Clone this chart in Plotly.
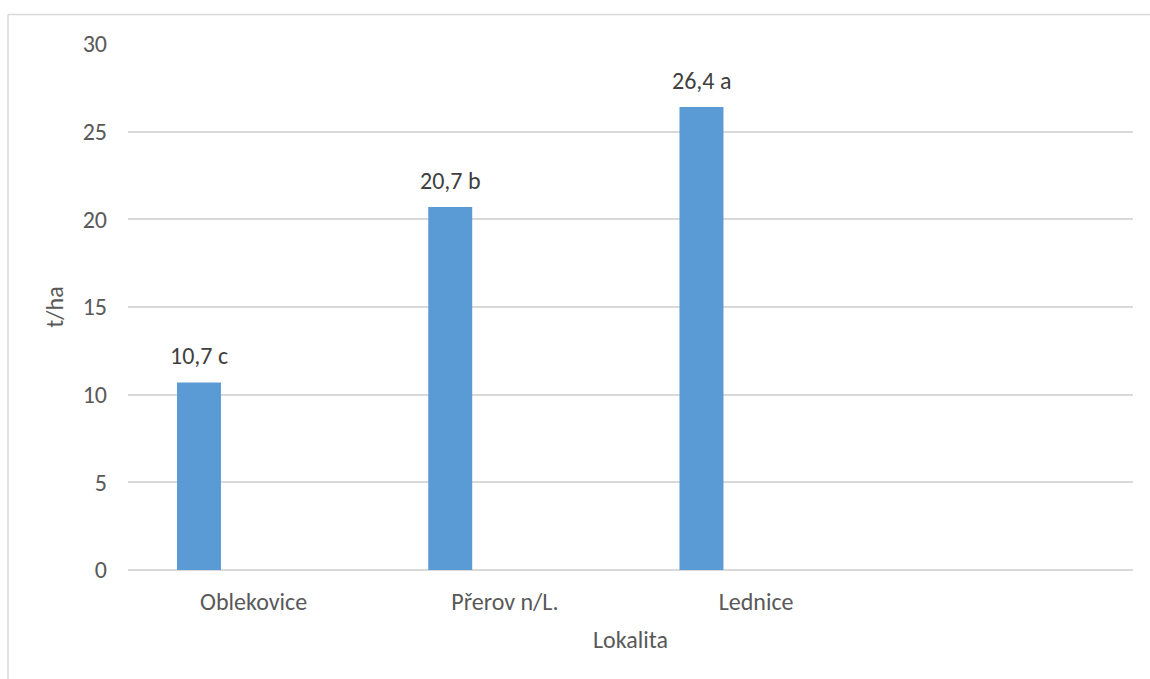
import plotly.graph_objects as go

categories = ["Oblekovice", "Přerov n/L.", "Lednice"]
values = [10.7, 20.7, 26.4]
letters = ["c", "b", "a"]
n_slots = 4  # Excel axis reserves one empty category slot

FONT = "Carlito, Lato, sans-serif"
FS = 24
BAR_OFFSET = -0.305
BAR_WIDTH = 0.175

xs = list(range(len(categories)))
labels = [f"{str(v).replace('.', ',')} {l}" for v, l in zip(values, letters)]

fig = go.Figure()
fig.add_trace(go.Bar(
    x=xs, y=values,
    offset=BAR_OFFSET, width=BAR_WIDTH,
    marker=dict(color="#5B9BD5", line=dict(width=0)),
    hoverinfo="skip",
))

for x, v, t in zip(xs, values, labels):
    fig.add_annotation(
        x=x + BAR_OFFSET + BAR_WIDTH / 2, y=v, text=t,
        showarrow=False, yanchor="bottom", yshift=10,
        font=dict(family=FONT, size=FS, color="#404040"),
    )

# chart area border (top and left edges visible)
fig.add_shape(type="line", xref="paper", yref="paper",
              x0=(8 - 128) / 1005, x1=1.1, y0=(570 - 14.5) / 526, y1=(570 - 14.5) / 526,
              line=dict(color="#d9d9d9", width=1.5))
fig.add_shape(type="line", xref="paper", yref="paper",
              x0=(8 - 128) / 1005, x1=(8 - 128) / 1005, y0=-0.3, y1=(570 - 14.5) / 526,
              line=dict(color="#d9d9d9", width=1.5))

fig.update_layout(
    width=1150, height=679,
    margin=dict(l=128, r=17, t=44, b=109),
    paper_bgcolor="white", plot_bgcolor="white",
    showlegend=False,
    font=dict(family=FONT, size=FS, color="#595959"),
    xaxis=dict(
        range=[-0.5, n_slots - 0.5],
        tickvals=xs, ticktext=categories,
        showgrid=False, zeroline=False, showline=False,
        ticks="", ticklabelstandoff=15,
        title=dict(text="Lokalita", standoff=16, font=dict(size=FS, color="#595959")),
        fixedrange=True,
    ),
    yaxis=dict(
        range=[0, 30], tickvals=[0, 5, 10, 15, 20, 25, 30],
        showgrid=True, gridcolor="#d9d9d9", gridwidth=1.5,
        zeroline=True, zerolinecolor="#d9d9d9", zerolinewidth=1.5,
        showline=False, ticks="", ticklabelstandoff=20,
        title=dict(text="t/ha", standoff=12, font=dict(size=FS, color="#595959")),
        fixedrange=True,
    ),
)

fig.write_html("out.html")
